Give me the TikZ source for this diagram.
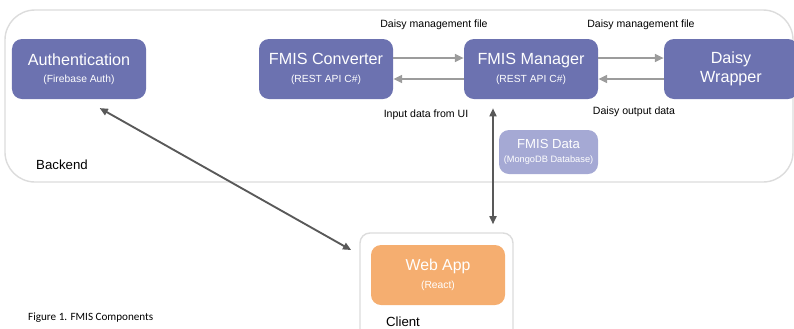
\documentclass[tikz,border=0pt]{standalone}
\usepackage{fontspec}
\setmainfont{Liberation Sans}
\newfontfamily\capfont{Carlito}
\usepackage{xcolor}
\usepackage{tikz}
\usetikzlibrary{positioning,arrows.meta,calc}

\definecolor{svcblue}{HTML}{6C72B0}
\definecolor{dbblue}{HTML}{A5A9D4}
\definecolor{apporange}{HTML}{F5AE70}
\definecolor{flowgray}{HTML}{9C9C9C}
\definecolor{linkgray}{HTML}{595959}
\definecolor{framegray}{HTML}{DCDCDC}

\newcommand{\subtxt}[1]{{\fontsize{8.8}{10}\selectfont #1}}
\newcommand{\dbtxt}[1]{{\fontsize{7.9}{9}\selectfont #1}}

\begin{document}
\begin{tikzpicture}[
  x=0.03cm, y=-0.03cm,
  every node/.style={align=center,inner sep=0pt},
  svc/.style   ={rectangle,rounded corners=0.3cm,fill=svcblue,text=white,
                 minimum width=4.02cm,minimum height=1.8cm,
                 font=\fontsize{13.8}{16}\selectfont},
  dbbox/.style ={rectangle,rounded corners=0.3cm,fill=dbblue,text=white,
                 minimum width=2.97cm,minimum height=1.32cm,
                 font=\fontsize{11.2}{13}\selectfont},
  appbox/.style={rectangle,rounded corners=0.3cm,fill=apporange,text=white,
                 minimum width=4.02cm,minimum height=1.8cm,
                 font=\fontsize{13.5}{16}\selectfont},
  frame/.style ={rectangle,draw=framegray,line width=1.2pt},
  lab/.style   ={font=\fontsize{9}{11}\selectfont},
  grp/.style   ={font=\fontsize{11.3}{13}\selectfont},
  flow/.style  ={-{Triangle[length=7.5pt,width=6.5pt]},flowgray,line width=1.8pt},
  link/.style  ={{Triangle[length=7pt,width=6pt]}-{Triangle[length=7pt,width=6pt]},
                 linkgray,line width=1.6pt},
]
\useasboundingbox (0,0) rectangle (794,328);
\clip (0,0) rectangle (794,328);

% containers
\node[frame,rounded corners=0.9cm,minimum width=23.64cm,minimum height=5.16cm]
  at (399,96) (backend) {};
\node[frame,rounded corners=0.3cm,minimum width=4.59cm,minimum height=3.36cm]
  at (436.5,289) (client) {};

% services
\node[svc]    at (79,69)     (auth)   {Authentication\\[-1pt]\subtxt{(Firebase Auth)}};
\node[svc]    at (326,69)    (conv)   {FMIS Converter\\[-1pt]\subtxt{(REST API C\#)}};
\node[svc]    at (531,69)    (mgr)    {FMIS Manager\\[-1pt]\subtxt{(REST API C\#)}};
\node[svc]    at (731,69)    (daisy)  {Daisy\\Wrapper};
\node[dbbox]  at (548.5,152) (fdata)  {FMIS Data\\[-1pt]\dbtxt{(MongoDB Database)}};
\node[appbox] at (438,275)   (webapp) {Web App\\[-1pt]\subtxt{(React)}};

% group labels
\node[grp] at (62,165)  (lbback)   {Backend};
\node[grp] at (403,322) (lbclient) {Client};
\node[anchor=west,font=\capfont\fontsize{9.5}{11}\selectfont]
  at (28,318) (caption) {Figure 1. FMIS Components};

% data flow
\draw[flow] ([yshift=0.33cm]conv.east)  -- ([yshift=0.33cm]mgr.west);
\draw[flow] ([yshift=-0.3cm]mgr.west)   -- ([yshift=-0.3cm]conv.east);
\draw[flow] ([yshift=0.33cm]mgr.east)   -- ([yshift=0.33cm]daisy.west);
\draw[flow] ([yshift=-0.3cm]daisy.west) -- ([yshift=-0.3cm]mgr.east);

\node[lab] at (434,25)  (lbmgmt1) {Daisy management file};
\node[lab] at (641,25)  (lbmgmt2) {Daisy management file};
\node[lab] at (426,115) (lbinput) {Input data from UI};
\node[lab] at (634,112) (lbout)   {Daisy output data};

% client links
\draw[link,shorten <=0.27cm,shorten >=0.24cm]
  ([xshift=-1.14cm]mgr.south) -- ([xshift=-1.14cm]mgr.south |- client.north);
\draw[link,shorten <=0.54cm,shorten >=0.28cm]
  ([xshift=0.15cm]auth.south) -- ([yshift=-0.67cm]client.north west);
\end{tikzpicture}
\end{document}
